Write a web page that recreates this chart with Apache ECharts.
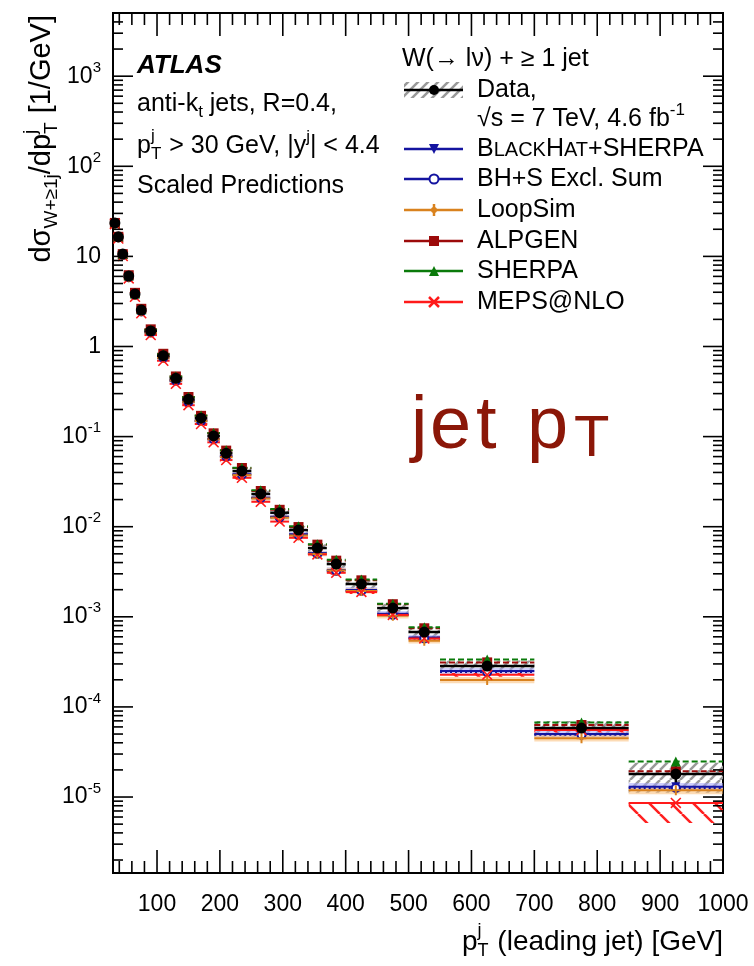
<!DOCTYPE html>
<html lang="en">
<head>
<meta charset="UTF-8">
<title>W + jets leading jet pT</title>
<script src="https://cdn.jsdelivr.net/npm/echarts@6/dist/echarts.min.js"></script>
<style>html,body{margin:0;padding:0;background:#fff;}</style>
</head>
<body>
<div id="main" style="width:754px;height:966px;"></div>
<script>
// bins of leading jet pT [GeV]
var binLo = [30, 36, 41, 50, 60, 70, 80, 100, 120, 140, 160, 180, 200, 220, 250, 280, 310, 340, 370, 400, 450, 500, 550, 700, 850];
var binHi = [36, 41, 50, 60, 70, 80, 100, 120, 140, 160, 180, 200, 220, 250, 280, 310, 340, 370, 400, 450, 500, 550, 700, 850, 1000];
var binMid = [33, 38.5, 45.5, 55, 65, 75, 90, 110, 130, 150, 170, 190, 210, 235, 265, 295, 325, 355, 385, 425, 475, 525, 625, 775, 925];

// measured cross section [1/GeV]
var dataVal = [23.5, 16.5, 10.6, 6.06, 3.83, 2.54, 1.49, 0.79, 0.443, 0.259, 0.160, 0.1016, 0.0653, 0.0415, 0.0231, 0.0143, 0.00918, 0.0058, 0.00385, 0.00231, 0.00125, 0.000678, 0.000284, 5.83e-5, 1.80e-5];
var dataStat = [0.002, 0.002, 0.002, 0.003, 0.003, 0.004, 0.004, 0.005, 0.006, 0.008, 0.01, 0.012, 0.015, 0.018, 0.022, 0.028, 0.035, 0.04, 0.05, 0.05, 0.06, 0.08, 0.08, 0.13, 0.3];
var dataSysUp = [0.06, 0.06, 0.06, 0.06, 0.06, 0.06, 0.06, 0.06, 0.07, 0.07, 0.07, 0.08, 0.08, 0.08, 0.09, 0.09, 0.1, 0.1, 0.11, 0.11, 0.12, 0.13, 0.15, 0.2, 0.33];
var dataSysDown = [0.06, 0.06, 0.06, 0.06, 0.06, 0.06, 0.06, 0.06, 0.07, 0.07, 0.07, 0.08, 0.08, 0.08, 0.09, 0.09, 0.1, 0.1, 0.11, 0.11, 0.12, 0.13, 0.15, 0.2, 0.38];

// predictions
var blackhat = [23.3, 16.3, 10.4, 5.94, 3.75, 2.46, 1.45, 0.758, 0.421, 0.246, 0.150, 0.0945, 0.0607, 0.0382, 0.0210, 0.0129, 0.00826, 0.00510, 0.00331, 0.00199, 0.00108, 0.000590, 0.000250, 5.01e-5, 1.30e-5];
var bhsExcl = [23.3, 16.2, 10.4, 5.88, 3.72, 2.44, 1.43, 0.751, 0.416, 0.243, 0.149, 0.0935, 0.0601, 0.0378, 0.0208, 0.0127, 0.00808, 0.00499, 0.00323, 0.00194, 0.00105, 0.000576, 0.000244, 4.90e-5, 1.26e-5];
var loopsim = [23.0, 16.2, 10.4, 5.88, 3.72, 2.46, 1.43, 0.751, 0.421, 0.243, 0.149, 0.0935, 0.0594, 0.0374, 0.0206, 0.0126, 0.00799, 0.00499, 0.00327, 0.00194, 0.00103, 0.000542, 0.000199, 4.49e-5, 1.19e-5];
var alpgen = [23.5, 16.5, 10.6, 6.18, 3.94, 2.62, 1.55, 0.83, 0.465, 0.275, 0.170, 0.1087, 0.0699, 0.0448, 0.0249, 0.0154, 0.00991, 0.00632, 0.00420, 0.00254, 0.00138, 0.000746, 0.000312, 6.30e-5, 1.93e-5];
var sherpa = [23.5, 16.5, 10.6, 6.12, 3.87, 2.59, 1.53, 0.82, 0.465, 0.275, 0.171, 0.1097, 0.0705, 0.0452, 0.0254, 0.0157, 0.0101, 0.00638, 0.00431, 0.00259, 0.00140, 0.000766, 0.000335, 6.70e-5, 2.48e-5];
var meps = [22.8, 15.8, 10.1, 5.70, 3.56, 2.34, 1.34, 0.695, 0.385, 0.223, 0.138, 0.0864, 0.0549, 0.0349, 0.0189, 0.0114, 0.00753, 0.00493, 0.00308, 0.00189, 0.00105, 0.000576, 0.000227, 5.54e-5, 8.6e-6];
var theoryUnc = [0.04, 0.04, 0.04, 0.04, 0.04, 0.04, 0.04, 0.05, 0.05, 0.05, 0.05, 0.05, 0.05, 0.06, 0.06, 0.06, 0.06, 0.06, 0.07, 0.07, 0.07, 0.07, 0.08, 0.08, 0.1];
var mepsUncUp = [0.05, 0.05, 0.05, 0.05, 0.05, 0.05, 0.05, 0.05, 0.05, 0.05, 0.05, 0.05, 0.05, 0.05, 0.05, 0.05, 0.05, 0.05, 0.05, 0.05, 0.05, 0.05, 0.05, 0.06, 0.02];
var mepsUncDown = [0.05, 0.05, 0.05, 0.05, 0.05, 0.05, 0.05, 0.05, 0.05, 0.05, 0.05, 0.05, 0.05, 0.05, 0.05, 0.05, 0.05, 0.05, 0.05, 0.05, 0.05, 0.05, 0.05, 0.06, 0.4];

// axis ticks
var xMajorTicks = [100, 200, 300, 400, 500, 600, 700, 800, 900, 1000];
var yMajorTicks = [1e-5, 1e-4, 1e-3, 1e-2, 1e-1, 1, 10, 100, 1000];
var yMin = 1.435e-6, yMax = 5025;

var FONT = 'Liberation Sans';

function hatch(color, dir, gap, lw) {
    var c = document.createElement('canvas');
    c.width = gap; c.height = gap;
    var g = c.getContext('2d');
    g.strokeStyle = color; g.lineWidth = lw;
    g.beginPath();
    for (var k = -1; k <= 1; k++) {
        if (dir > 0) { g.moveTo(k * gap, gap); g.lineTo(k * gap + gap, 0); }
        else { g.moveTo(k * gap, 0); g.lineTo(k * gap + gap, gap); }
    }
    g.stroke();
    return { type: 'pattern', image: c, repeat: 'repeat' };
}
var grayHatch = hatch('#9a9a9a', 1, 10, 2.5);
var redHatch = hatch('#ff2020', -1, 22, 2.5);

// [lo, hi, value, relative up, relative down]
function binData(vals, up, down) {
    return binLo.map(function (lo, i) {
        return [lo, binHi[i], vals[i], up ? up[i] : 0, down ? down[i] : (up ? up[i] : 0)];
    });
}
function pointData(vals) {
    return binMid.map(function (c, i) { return [c, vals[i]]; });
}

// tick list: [x, y, kind] kind 0 x-major, 1 x-minor, 2 y-major, 3 y-minor
var tickData = [];
xMajorTicks.forEach(function (v) { tickData.push([v, 1, 0]); });
for (var v = 40; v < 1000; v += 20) { if (v % 100) tickData.push([v, 1, 1]); }
yMajorTicks.forEach(function (v) { tickData.push([500, v, 2]); });
for (var e = -6; e <= 3; e++) {
    for (var m = 2; m <= 9; m++) {
        var t = m * Math.pow(10, e);
        if (t > yMin && t < yMax) tickData.push([500, t, 3]);
    }
}

function renderTick(params, api) {
    var cs = params.coordSys;
    var kind = api.value(2);
    var st = { stroke: '#000', lineWidth: 1.6 };
    var out = [];
    if (kind < 2) {
        var x = api.coord([api.value(0), 1])[0];
        var len = kind === 0 ? 23 : 12;
        out.push({ type: 'line', shape: { x1: x, y1: cs.y + cs.height, x2: x, y2: cs.y + cs.height - len }, style: st });
        out.push({ type: 'line', shape: { x1: x, y1: cs.y, x2: x, y2: cs.y + len }, style: st });
    } else {
        var y = api.coord([500, api.value(1)])[1];
        var l2 = kind === 2 ? 20 : 10;
        out.push({ type: 'line', shape: { x1: cs.x, y1: y, x2: cs.x + l2, y2: y }, style: st });
        out.push({ type: 'line', shape: { x1: cs.x + cs.width, y1: y, x2: cs.x + cs.width - l2, y2: y }, style: st });
    }
    return { type: 'group', children: out };
}

function bandRender(fill) {
    return function (params, api) {
        var v = api.value(2);
        var a = api.coord([api.value(0), v * (1 + api.value(3))]);
        var b = api.coord([api.value(1), v * (1 - api.value(4))]);
        return { type: 'rect', shape: { x: a[0], y: a[1], width: b[0] - a[0], height: b[1] - a[1] }, style: { fill: fill } };
    };
}
function lineRender(color, dash, lw) {
    return function (params, api) {
        var a = api.coord([api.value(0), api.value(2)]);
        var b = api.coord([api.value(1), api.value(2)]);
        return { type: 'line', shape: { x1: a[0], y1: a[1], x2: b[0], y2: b[1] }, style: { stroke: color, lineWidth: lw || 2, lineDash: dash || null } };
    };
}
function dataBarRender(params, api) {
    var lo = api.value(0), hi = api.value(1), v = api.value(2), s = api.value(3);
    var a = api.coord([lo, v]), b = api.coord([hi, v]);
    var mid = api.coord([(lo + hi) / 2, v]);
    var up = api.coord([(lo + hi) / 2, v * (1 + s)]), dn = api.coord([(lo + hi) / 2, v * (1 - s)]);
    return { type: 'group', children: [
        { type: 'line', shape: { x1: a[0], y1: a[1], x2: b[0], y2: b[1] }, style: { stroke: '#000', lineWidth: 2.5 } },
        { type: 'line', shape: { x1: mid[0], y1: up[1], x2: mid[0], y2: dn[1] }, style: { stroke: '#000', lineWidth: 2.5 } }
    ] };
}

var C_BH = '#1414a0', C_LS = '#d9821e', C_AL = '#9c0a0a', C_SH = '#0a7a0a', C_ME = '#ff1a1a';
var X_PATH = 'path://M0,1L1,0L5,4L9,0L10,1L6,5L10,9L9,10L5,6L1,10L0,9L4,5Z';
var PLUS_PATH = 'path://M4,0H6V4H10V6H6V10H4V6H0V4H4Z';

function custom(name, data, render, z) {
    return { name: name, type: 'custom', data: data, renderItem: render, encode: { x: [0, 1], y: 2 }, z: z, silent: true };
}
function markers(name, vals, symbol, size, color, z, extra) {
    var s = { name: name, type: 'scatter', data: pointData(vals), symbol: symbol, symbolSize: size,
        itemStyle: { color: color, opacity: 1 }, z: z, silent: true };
    for (var k in extra) s[k] = extra[k];
    return s;
}

var series = [
    custom('dataSys', binData(dataVal, dataSysUp, dataSysDown), bandRender(grayHatch), 2),
    custom('bhBand', binData(blackhat, theoryUnc), bandRender('rgba(165,165,250,0.55)'), 2),
    custom('lsBand', binData(loopsim, theoryUnc), bandRender('rgba(250,190,120,0.55)'), 2),
    custom('mepsBand', binData(meps, mepsUncUp, mepsUncDown), bandRender(redHatch), 2),
    custom('bhLine', binData(blackhat), lineRender(C_BH), 3),
    custom('bhsLine', binData(bhsExcl), lineRender(C_BH, [2, 3]), 3),
    custom('lsLine', binData(loopsim), lineRender(C_LS), 3),
    custom('alLine', binData(alpgen), lineRender(C_AL, [6, 3]), 3),
    custom('shLine', binData(sherpa), lineRender(C_SH, [6, 3]), 3),
    custom('meLine', binData(meps), lineRender(C_ME), 3),
    custom('dataBar', binData(dataVal, dataStat), dataBarRender, 4),
    markers('BlackHat+Sherpa', blackhat, 'triangle', 9, C_BH, 5, { symbolRotate: 180 }),
    markers('BH+S Excl. Sum', bhsExcl, 'emptyCircle', 8, C_BH, 5, {}),
    markers('LoopSim', loopsim, PLUS_PATH, 10, C_LS, 5, {}),
    markers('ALPGEN', alpgen, 'rect', 10, C_AL, 5, {}),
    markers('SHERPA', sherpa, 'triangle', 10, C_SH, 5, {}),
    markers('MEPS@NLO', meps, X_PATH, 11, C_ME, 5, {}),
    markers('Data', dataVal, 'circle', 11, '#000', 6, {}),
    { name: 'ticks', type: 'custom', data: tickData, renderItem: renderTick, encode: { x: 0, y: 1 }, z: 8, silent: true }
];

// text pieces laid out side by side; 'ss' stacks a subscript under a superscript
var mctx = document.createElement('canvas').getContext('2d');
function textWidth(t, size) { mctx.font = size + 'px "' + FONT + '"'; return mctx.measureText(t).width; }
function piece(x, y, t, size, color) {
    return { type: 'text', x: x, y: y, style: { text: t, fontSize: size, fontFamily: FONT, fill: color || '#000', verticalAlign: 'middle', align: 'left' } };
}
function compose(x, y, parts, size, opts) {
    opts = opts || {};
    var small = Math.round(size * 0.66), cx = 0, kids = [];
    parts.forEach(function (p) {
        var kind = p[0];
        if (kind === 'n') { kids.push(piece(cx, 0, p[1], size)); cx += textWidth(p[1], size); }
        else if (kind === 'sub') { kids.push(piece(cx, size * 0.32, p[1], small)); cx += textWidth(p[1], small); }
        else if (kind === 'sup') { kids.push(piece(cx, -size * 0.36, p[1], small)); cx += textWidth(p[1], small); }
        else if (kind === 'sc') { kids.push(piece(cx, size * 0.07, p[1], Math.round(size * 0.78))); cx += textWidth(p[1], Math.round(size * 0.78)); }
        else {
            kids.push(piece(cx, size * 0.34, p[1], small));
            kids.push(piece(cx, -size * 0.38, p[2], small));
            cx += Math.max(textWidth(p[1], small), textWidth(p[2], small)) + 1;
        }
    });
    var shift = opts.align === 'right' ? -cx : 0;
    kids.forEach(function (k) { k.x += shift; });
    return { type: 'group', x: x, y: y, rotation: opts.rotation || 0, children: kids, z: 20 };
}

// legend rows (graphic)
var LX0 = 404, LX1 = 463, LXM = 434, LTX = 477, LFS = 25;
var legendRows = [
    { label: [['n', 'B'], ['sc', 'LACK'], ['n', 'H'], ['sc', 'AT'], ['n', '+SHERPA']], y: 149, color: C_BH, mark: 'down' },
    { label: [['n', 'BH+S Excl. Sum']], y: 179, color: C_BH, mark: 'ring' },
    { label: [['n', 'LoopSim']], y: 210, color: C_LS, mark: 'plus' },
    { label: [['n', 'ALPGEN']], y: 241, color: C_AL, mark: 'square' },
    { label: [['n', 'SHERPA']], y: 271, color: C_SH, mark: 'up' },
    { label: [['n', 'MEPS@NLO']], y: 302, color: C_ME, mark: 'x' }
];
function markShape(kind, x, y, color) {
    var s = 5;
    if (kind === 'down') return { type: 'polygon', shape: { points: [[x - s, y - s], [x + s, y - s], [x, y + s]] }, style: { fill: color } };
    if (kind === 'up') return { type: 'polygon', shape: { points: [[x - s, y + s], [x + s, y + s], [x, y - s]] }, style: { fill: color } };
    if (kind === 'ring') return { type: 'circle', shape: { cx: x, cy: y, r: 4.5 }, style: { fill: '#fff', stroke: color, lineWidth: 2 } };
    if (kind === 'square') return { type: 'rect', shape: { x: x - 5, y: y - 5, width: 10, height: 10 }, style: { fill: color } };
    if (kind === 'plus') return { type: 'group', children: [
        { type: 'line', shape: { x1: x, y1: y - 6, x2: x, y2: y + 6 }, style: { stroke: color, lineWidth: 2.5 } },
        { type: 'circle', shape: { cx: x, cy: y, r: 3 }, style: { fill: color } }] };
    return { type: 'group', children: [
        { type: 'line', shape: { x1: x - 5, y1: y - 5, x2: x + 5, y2: y + 5 }, style: { stroke: color, lineWidth: 2.5 } },
        { type: 'line', shape: { x1: x - 5, y1: y + 5, x2: x + 5, y2: y - 5 }, style: { stroke: color, lineWidth: 2.5 } }] };
}

var graphics = [];
graphics.push(compose(402, 59, [['n', 'W(→ lν) + ≥ 1 jet']], LFS));
graphics.push({ type: 'rect', shape: { x: LX0, y: 82, width: LX1 - LX0, height: 16 }, style: { fill: grayHatch }, z: 20 });
graphics.push({ type: 'line', shape: { x1: LX0, y1: 90, x2: LX1, y2: 90 }, style: { stroke: '#000', lineWidth: 2.5 }, z: 20 });
graphics.push({ type: 'circle', shape: { cx: LXM, cy: 90, r: 5 }, style: { fill: '#000' }, z: 21 });
graphics.push(compose(LTX, 90, [['n', 'Data,']], LFS));
graphics.push(compose(LTX, 119, [['n', '√s = 7 TeV, 4.6 fb'], ['sup', '-1']], LFS));
legendRows.forEach(function (r) {
    graphics.push({ type: 'line', shape: { x1: LX0, y1: r.y, x2: LX1, y2: r.y }, style: { stroke: r.color, lineWidth: 2.5 }, z: 20 });
    var m = markShape(r.mark, LXM, r.y, r.color);
    m.z = 21;
    graphics.push(m);
    graphics.push(compose(LTX, r.y, r.label, LFS));
});

// annotations
graphics.push({ type: 'text', x: 137, y: 66, z: 20, style: { text: 'ATLAS', fontSize: 26, fontWeight: 'bold', fontStyle: 'italic', fontFamily: FONT, fill: '#000', verticalAlign: 'middle' } });
graphics.push(compose(137, 104, [['n', 'anti-k'], ['sub', 't'], ['n', ' jets, R=0.4,']], 25));
graphics.push(compose(137, 146, [['n', 'p'], ['ss', 'T', 'j'], ['n', ' > 30 GeV, |y'], ['sup', 'j'], ['n', '| < 4.4']], 25));
graphics.push(compose(137, 186, [['n', 'Scaled Predictions']], 25));

// big "jet pT" label
var JC = '#8b1708';
[['j', 411], ['e', 430], ['t', 476], ['p', 527]].forEach(function (c) {
    graphics.push({ type: 'text', x: c[1], y: 428, z: 20, style: { text: c[0], fontSize: 74, fontFamily: FONT, fill: JC, verticalAlign: 'middle' } });
});
graphics.push({ type: 'text', x: 574, y: 440, z: 20, style: { text: 'T', fontSize: 58, fontFamily: FONT, fill: JC, verticalAlign: 'middle' } });

// axis titles
graphics.push(compose(42, 15, [['n', 'dσ'], ['sub', 'W+≥1j'], ['n', '/dp'], ['ss', 'T', 'j'], ['n', ' [1/GeV]']], 29, { align: 'right', rotation: Math.PI / 2 }));
graphics.push(compose(723, 942, [['n', 'p'], ['ss', 'T', 'j'], ['n', ' (leading jet) [GeV]']], 28, { align: 'right' }));

var chart = echarts.init(document.getElementById('main'));
chart.setOption({
    animation: false,
    backgroundColor: '#fff',
    grid: { left: 113, right: 31, top: 13, bottom: 93, show: true, borderColor: '#000', borderWidth: 2, outerBoundsMode: 'none' },
    xAxis: {
        type: 'value', min: 30, max: 1000, minInterval: 100, maxInterval: 100,
        axisLine: { show: false }, axisTick: { show: false }, splitLine: { show: false },
        axisLabel: { fontFamily: FONT, fontSize: 23, color: '#000', margin: 20,
            formatter: function (v) { return v % 100 === 0 ? String(v) : ''; } }
    },
    yAxis: {
        type: 'log', logBase: 10, min: yMin, max: yMax, splitNumber: 10,
        axisLine: { show: false }, axisTick: { show: false }, splitLine: { show: false },
        axisLabel: { fontFamily: FONT, fontSize: 23, color: '#000', margin: 12,
            formatter: function (v) {
                var e = Math.log10(v), r = Math.round(e);
                if (Math.abs(e - r) > 1e-4) return '';
                if (r === 0) return '{b|1}';
                if (r === 1) return '{b|10}';
                return '{b|10}{s|' + r + '}';
            },
            rich: {
                b: { fontFamily: FONT, fontSize: 23, color: '#000', lineHeight: 32 },
                s: { fontFamily: FONT, fontSize: 15, color: '#000', lineHeight: 15, verticalAlign: 'top' }
            }
        }
    },
    graphic: graphics,
    series: series
});
</script>
</body>
</html>
